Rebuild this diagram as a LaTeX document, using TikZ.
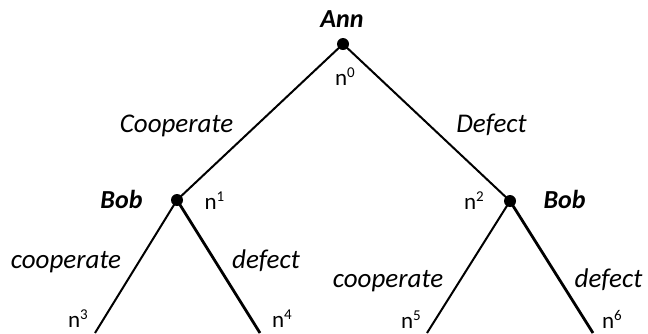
\documentclass[tikz,border=0pt]{standalone}
\usepackage{fontspec}
\setmainfont{Carlito}
\newcommand{\nodelabel}[1]{n\raisebox{8pt}{\fontsize{15}{16}\selectfont #1}}
\begin{document}
\begin{tikzpicture}[x=1pt,y=-1pt,
  move/.style={font=\fontsize{27}{32}\selectfont\itshape, anchor=base, inner sep=0pt},
  player/.style={font=\fontsize{26}{30}\selectfont\bfseries\itshape, anchor=base, inner sep=0pt},
  lab/.style={font=\fontsize{23}{27}\selectfont, anchor=base, inner sep=0pt},
  decision/.style={circle, fill=black, inner sep=0pt, minimum size=12pt},
  branch/.style={line width=2pt},
  heavybranch/.style={line width=2.8pt}]
\useasboundingbox (0,0) rectangle (648,333);

% decision nodes
\node[decision] (r)  at (343,44)  {};
\node[decision] (b1) at (177,200) {};
\node[decision] (b2) at (510,201) {};

% terminal points
\coordinate (t3) at (95,333);
\coordinate (t4) at (260,333);
\coordinate (t5) at (427,333);
\coordinate (t6) at (593,333);

% branches
\draw[branch] (r.center) -- (b1.center);
\draw[branch] (r.center) -- (b2.center);
\draw[branch] (b1.center) -- (t3);
\draw[heavybranch] (b1.center) -- (t4);
\draw[branch] (b2.center) -- (t5);
\draw[heavybranch] (b2.center) -- (t6);

% players
\node[player] (ann)  at (342,27)  {Ann};
\node[player] (bob1) at (121.5,208) {Bob};
\node[player] (bob2) at (564.5,208) {Bob};

% node names
\node[lab] (l0) at (345,85)  {\nodelabel{0}};
\node[lab] (l1) at (214.5,209) {\nodelabel{1}};
\node[lab] (l2) at (474,209) {\nodelabel{2}};
\node[lab] (l3) at (78,327)  {\nodelabel{3}};
\node[lab] (l4) at (282,327) {\nodelabel{4}};
\node[lab] (l5) at (411,328) {\nodelabel{5}};
\node[lab] (l6) at (612,328) {\nodelabel{6}};

% moves
\node[move] (mc)  at (176.5,132) {Cooperate};
\node[move] (md)  at (491.5,132) {Defect};
\node[move] (mc1) at (66,268)  {cooperate};
\node[move] (md1) at (266,268) {defect};
\node[move] (mc2) at (388,287) {cooperate};
\node[move] (md2) at (608.5,287) {defect};
\end{tikzpicture}
\end{document}
